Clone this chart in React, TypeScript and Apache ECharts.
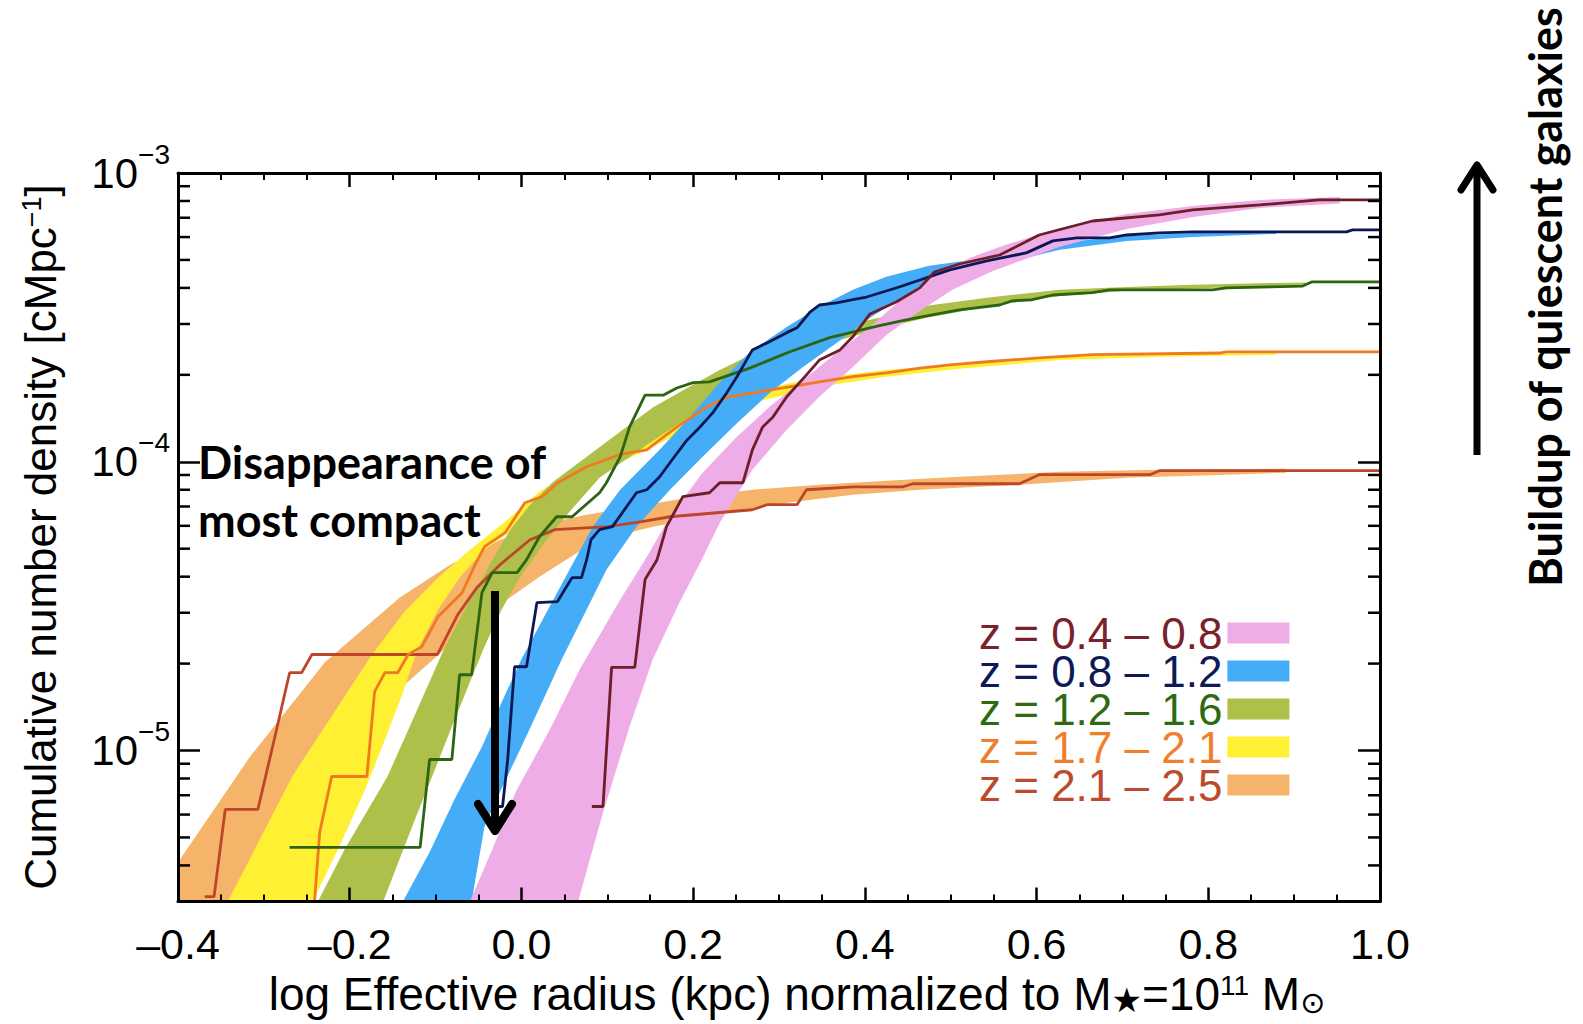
import React, { useEffect, useRef } from "react";
import * as echarts from "echarts";

const FONT = "'Liberation Sans', Arial, Helvetica, sans-serif";
const BOLD_FONT = "Lato, 'Open Sans', 'Noto Sans', sans-serif";

// ---------- axis settings ----------
const X_MIN = -0.4;
const X_MAX = 1.0;
const X_INTERVAL = 0.2;
const Y_MIN = 3e-6;
const Y_MAX = 1e-3;
const yMinorTicks = [
  4e-6, 5e-6, 6e-6, 7e-6, 8e-6, 9e-6,
  2e-5, 3e-5, 4e-5, 5e-5, 6e-5, 7e-5, 8e-5, 9e-5,
  2e-4, 3e-4, 4e-4, 5e-4, 6e-4, 7e-4, 8e-4, 9e-4,
];

// ---------- legend / redshift bins ----------
const binNames = ["z = 0.4 – 0.8", "z = 0.8 – 1.2", "z = 1.2 – 1.6", "z = 1.7 – 2.1", "z = 2.1 – 2.5"];
const bandColors = ["#EEADE6", "#45ACF8", "#AFC04A", "#FFF033", "#F5B46A"];
const lineColors = ["#6E1E29", "#0D1754", "#2C6413", "#F07A22", "#BD4529"];
const legendTextColors = ["#7A222B", "#0D1A55", "#2D6A12", "#F07F2C", "#BE4A2C"];

// ---------- z = 0.4 – 0.8 ----------
const pinkUpper = [[-0.060,3.0e-6],[-0.034,4.54e-6],[-0.007,7.16e-6],[0.033,1.18e-5],[0.068,1.91e-5],[0.115,3.33e-5],[0.144,4.58e-5],[0.173,6.45e-5],[0.211,9.16e-5],[0.251,1.22e-4],[0.289,1.55e-4],[0.328,1.92e-4],[0.367,2.38e-4],[0.406,2.93e-4],[0.444,3.69e-4],[0.484,4.47e-4],[0.522,5.08e-4],[0.560,5.59e-4],[0.627,6.45e-4],[0.705,7.21e-4],[0.782,7.69e-4],[0.860,8.07e-4],[0.953,8.26e-4]];
const pinkLower = [[0.066,3.0e-6],[0.095,6.10e-6],[0.126,1.21e-5],[0.153,2.07e-5],[0.184,3.25e-5],[0.210,4.58e-5],[0.231,6.15e-5],[0.269,9.38e-5],[0.309,1.29e-4],[0.347,1.68e-4],[0.386,2.13e-4],[0.425,2.75e-4],[0.464,3.33e-4],[0.502,3.94e-4],[0.549,4.58e-4],[0.627,5.55e-4],[0.705,6.40e-4],[0.782,7.04e-4],[0.860,7.57e-4],[0.953,7.84e-4]];
const brownLine = [[0.082,6.40e-6],[0.095,6.40e-6],[0.105,1.94e-5],[0.132,1.94e-5],[0.144,3.91e-5],[0.158,4.58e-5],[0.169,5.96e-5],[0.188,7.57e-5],[0.219,7.81e-5],[0.231,8.46e-5],[0.258,8.46e-5],[0.269,1.10e-4],[0.281,1.32e-4],[0.293,1.43e-4],[0.309,1.68e-4],[0.332,2.00e-4],[0.347,2.25e-4],[0.371,2.44e-4],[0.386,2.71e-4],[0.406,3.25e-4],[0.437,3.58e-4],[0.464,4.00e-4],[0.481,4.54e-4],[0.510,4.84e-4],[0.557,5.20e-4],[0.603,6.10e-4],[0.665,6.82e-4],[0.743,7.16e-4],[0.782,7.45e-4],[0.860,7.75e-4],[0.929,8.07e-4],[1.000,8.07e-4]];

// ---------- z = 0.8 – 1.2 ----------
const blueUpper = [[-0.138,3.0e-6],[-0.107,4.44e-6],[-0.078,6.77e-6],[-0.046,1.03e-5],[-0.023,1.47e-5],[0.000,2.07e-5],[0.031,3.08e-5],[0.056,4.23e-5],[0.083,5.96e-5],[0.115,8.00e-5],[0.161,1.10e-4],[0.196,1.43e-4],[0.231,1.88e-4],[0.266,2.40e-4],[0.309,2.93e-4],[0.347,3.44e-4],[0.386,3.94e-4],[0.425,4.37e-4],[0.475,4.77e-4],[0.549,5.12e-4],[0.627,5.73e-4],[0.705,6.05e-4],[0.782,6.20e-4],[0.879,6.30e-4]];
const blueLower = [[-0.058,3.0e-6],[-0.043,5.46e-6],[-0.022,7.51e-6],[0.000,1.03e-5],[0.024,1.47e-5],[0.047,2.07e-5],[0.076,3.08e-5],[0.099,4.23e-5],[0.134,5.96e-5],[0.173,8.00e-5],[0.211,1.04e-4],[0.251,1.36e-4],[0.289,1.73e-4],[0.328,2.13e-4],[0.367,2.58e-4],[0.406,3.15e-4],[0.444,3.72e-4],[0.487,4.23e-4],[0.549,4.77e-4],[0.627,5.42e-4],[0.705,5.82e-4],[0.782,6.00e-4],[0.879,6.15e-4]];
const navyLine = [[-0.029,6.40e-6],[-0.022,6.40e-6],[-0.016,9.31e-6],[-0.008,1.95e-5],[0.006,1.95e-5],[0.018,3.25e-5],[0.042,3.28e-5],[0.059,3.97e-5],[0.070,3.97e-5],[0.076,4.58e-5],[0.081,5.37e-5],[0.091,5.82e-5],[0.106,5.96e-5],[0.134,7.81e-5],[0.146,8.00e-5],[0.161,8.87e-5],[0.176,1.02e-4],[0.193,1.19e-4],[0.208,1.32e-4],[0.223,1.48e-4],[0.239,1.73e-4],[0.251,1.97e-4],[0.269,2.44e-4],[0.286,2.58e-4],[0.309,2.80e-4],[0.321,2.91e-4],[0.336,3.30e-4],[0.347,3.49e-4],[0.367,3.55e-4],[0.386,3.64e-4],[0.402,3.72e-4],[0.440,4.03e-4],[0.499,4.62e-4],[0.542,4.96e-4],[0.588,5.29e-4],[0.619,5.82e-4],[0.647,5.96e-4],[0.685,5.96e-4],[0.705,6.10e-4],[0.743,6.20e-4],[0.782,6.25e-4],[0.961,6.25e-4],[0.968,6.35e-4],[1.000,6.35e-4]];

// ---------- z = 1.2 – 1.6 ----------
const greenUpper = [[-0.237,3.0e-6],[-0.206,4.54e-6],[-0.156,8.13e-6],[-0.124,1.33e-5],[-0.093,2.15e-5],[-0.066,3.08e-5],[-0.037,4.40e-5],[-0.013,5.82e-5],[0.010,7.10e-5],[0.037,8.53e-5],[0.076,1.04e-4],[0.115,1.27e-4],[0.153,1.54e-4],[0.193,1.80e-4],[0.231,2.08e-4],[0.269,2.36e-4],[0.309,2.62e-4],[0.347,2.84e-4],[0.417,3.15e-4],[0.472,3.47e-4],[0.549,3.72e-4],[0.627,3.94e-4],[0.705,4.03e-4],[0.782,4.10e-4],[0.860,4.15e-4],[0.914,4.18e-4]];
const greenLower = [[-0.161,3.0e-6],[-0.142,4.20e-6],[-0.124,5.77e-6],[-0.104,8.13e-6],[-0.081,1.21e-5],[-0.062,1.67e-5],[-0.043,2.29e-5],[-0.023,3.08e-5],[-0.002,3.97e-5],[0.027,5.25e-5],[0.056,6.71e-5],[0.091,8.80e-5],[0.138,1.10e-4],[0.184,1.36e-4],[0.231,1.67e-4],[0.278,2.00e-4],[0.324,2.35e-4],[0.371,2.64e-4],[0.417,2.88e-4],[0.472,3.15e-4],[0.549,3.47e-4],[0.627,3.75e-4],[0.705,3.91e-4],[0.782,3.98e-4],[0.860,4.05e-4],[0.914,4.10e-4]];
const greenLine = [[-0.270,4.62e-6],[-0.118,4.62e-6],[-0.107,9.31e-6],[-0.081,9.31e-6],[-0.072,1.83e-5],[-0.058,1.83e-5],[-0.046,3.52e-5],[-0.034,4.13e-5],[-0.005,4.13e-5],[0.006,4.58e-5],[0.021,5.50e-5],[0.041,6.45e-5],[0.059,6.45e-5],[0.091,7.81e-5],[0.099,8.46e-5],[0.115,1.04e-4],[0.126,1.32e-4],[0.144,1.70e-4],[0.165,1.70e-4],[0.181,1.80e-4],[0.200,1.88e-4],[0.219,1.89e-4],[0.266,2.11e-4],[0.312,2.40e-4],[0.359,2.69e-4],[0.417,2.96e-4],[0.444,3.08e-4],[0.472,3.20e-4],[0.510,3.36e-4],[0.557,3.49e-4],[0.572,3.61e-4],[0.595,3.64e-4],[0.619,3.78e-4],[0.665,3.85e-4],[0.685,3.94e-4],[0.805,3.94e-4],[0.821,4.00e-4],[0.910,4.06e-4],[0.921,4.20e-4],[1.000,4.20e-4]];

// ---------- z = 1.7 – 2.1 ----------
const yellowUpper = [[-0.342,3.0e-6],[-0.267,8.13e-6],[-0.174,2.15e-5],[-0.136,3.03e-5],[-0.097,3.97e-5],[-0.060,4.96e-5],[-0.019,6.20e-5],[0.021,7.87e-5],[0.062,9.38e-5],[0.109,1.13e-4],[0.155,1.34e-4],[0.208,1.57e-4],[0.269,1.77e-4],[0.347,1.95e-4],[0.425,2.08e-4],[0.510,2.18e-4],[0.627,2.31e-4],[0.743,2.36e-4],[0.879,2.38e-4]];
const yellowLower = [[-0.243,3.0e-6],[-0.211,4.73e-6],[-0.182,7.33e-6],[-0.159,1.09e-5],[-0.139,1.56e-5],[-0.121,2.24e-5],[-0.097,3.08e-5],[-0.072,3.97e-5],[-0.043,4.96e-5],[-0.002,6.05e-5],[0.037,7.21e-5],[0.115,9.92e-5],[0.193,1.29e-4],[0.269,1.60e-4],[0.347,1.82e-4],[0.425,1.97e-4],[0.510,2.10e-4],[0.627,2.25e-4],[0.743,2.31e-4],[0.879,2.35e-4]];
const orangeLine = [[-0.241,3.0e-6],[-0.235,5.20e-6],[-0.221,8.13e-6],[-0.180,8.13e-6],[-0.171,1.60e-5],[-0.159,1.86e-5],[-0.144,1.86e-5],[-0.132,2.15e-5],[-0.116,2.29e-5],[-0.097,2.91e-5],[-0.069,3.52e-5],[-0.054,4.40e-5],[-0.043,5.08e-5],[-0.019,5.68e-5],[0.004,7.21e-5],[0.024,7.57e-5],[0.042,8.46e-5],[0.076,9.61e-5],[0.115,1.06e-4],[0.146,1.10e-4],[0.161,1.19e-4],[0.184,1.34e-4],[0.216,1.55e-4],[0.239,1.67e-4],[0.278,1.75e-4],[0.328,1.85e-4],[0.347,1.89e-4],[0.386,1.97e-4],[0.425,2.03e-4],[0.464,2.11e-4],[0.502,2.17e-4],[0.542,2.22e-4],[0.603,2.29e-4],[0.665,2.35e-4],[0.813,2.38e-4],[0.821,2.40e-4],[1.000,2.40e-4]];

// ---------- z = 2.1 – 2.5 ----------
const orangeUpper = [[-0.400,4.10e-6],[-0.316,9.53e-6],[-0.229,2.02e-5],[-0.142,3.38e-5],[-0.083,4.40e-5],[-0.037,5.16e-5],[-0.002,5.73e-5],[0.037,6.20e-5],[0.076,6.56e-5],[0.134,6.99e-5],[0.193,7.51e-5],[0.269,8.00e-5],[0.347,8.33e-5],[0.425,8.60e-5],[0.510,8.87e-5],[0.627,9.23e-5],[0.743,9.38e-5],[0.891,9.46e-5]];
const orangeLower = [[-0.400,3.0e-6],[-0.342,3.0e-6],[-0.305,4.44e-6],[-0.258,6.77e-6],[-0.200,1.07e-5],[-0.142,1.63e-5],[-0.083,2.33e-5],[-0.025,3.20e-5],[0.021,4.00e-5],[0.076,5.08e-5],[0.115,5.59e-5],[0.153,5.96e-5],[0.231,6.61e-5],[0.309,7.21e-5],[0.386,7.69e-5],[0.464,8.00e-5],[0.580,8.33e-5],[0.705,8.80e-5],[0.821,9.02e-5],[0.891,9.16e-5]];
const redLine = [[-0.369,3.12e-6],[-0.358,3.12e-6],[-0.345,6.25e-6],[-0.307,6.25e-6],[-0.287,1.12e-5],[-0.270,1.86e-5],[-0.256,1.86e-5],[-0.244,2.15e-5],[-0.098,2.15e-5],[-0.074,2.96e-5],[-0.052,3.66e-5],[-0.025,4.40e-5],[0.010,5.37e-5],[0.039,5.82e-5],[0.101,5.96e-5],[0.140,6.20e-5],[0.173,6.45e-5],[0.269,6.82e-5],[0.286,7.10e-5],[0.321,7.10e-5],[0.332,8.00e-5],[0.386,8.19e-5],[0.444,8.19e-5],[0.456,8.39e-5],[0.580,8.39e-5],[0.603,9.02e-5],[0.732,9.02e-5],[0.743,9.31e-5],[1.000,9.31e-5]];

function bandSeries(name: string, color: string, upper: number[][], lower: number[][]) {
  const poly = [...upper, ...lower.slice().reverse()];
  return {
    type: "custom",
    name,
    clip: true,
    silent: true,
    itemStyle: { color },
    data: poly,
    renderItem: (params: any, api: any) => {
      if (params.dataIndex !== 0) return null;
      const pts = poly.map((p) => api.coord(p));
      return { type: "polygon", shape: { points: pts }, style: { fill: color, stroke: null } };
    },
  };
}

function lineSeries(name: string, color: string, data: number[][]) {
  return {
    type: "line",
    name,
    data,
    showSymbol: false,
    symbol: "none",
    clip: true,
    silent: true,
    lineStyle: { color, width: 2.8 },
  };
}

const xLabel = (v: number) => (v < -1e-9 ? "\u2013" : "") + Math.abs(v).toFixed(1);
const yLabel = (v: number) => {
  const l = Math.log10(v);
  const e = Math.round(l);
  if (Math.abs(l - e) > 1e-6) return "";
  return "{a|10}{b|" + (e < 0 ? "\u2212" + -e : String(e)) + "}";
};

function xAxisCfg(position: "bottom" | "top", showLabel: boolean) {
  return {
    type: "value",
    position,
    min: X_MIN,
    max: X_MAX,
    interval: X_INTERVAL,
    z: 20,
    axisLine: { show: true, onZero: false, lineStyle: { color: "#000", width: 3 } },
    axisTick: { show: true, inside: true, length: 14, lineStyle: { color: "#000", width: 2.5 } },
    minorTick: { show: true, splitNumber: 4, length: 7, lineStyle: { color: "#000", width: 2 } },
    splitLine: { show: false },
    minorSplitLine: { show: false },
    axisLabel: {
      show: showLabel,
      margin: 21,
      fontSize: 43,
      fontFamily: FONT,
      color: "#000",
      formatter: xLabel,
    },
  };
}

function yAxisCfg(position: "left" | "right", showLabel: boolean) {
  return {
    type: "log",
    logBase: 10,
    position,
    min: Y_MIN,
    max: Y_MAX,
    z: 20,
    axisLine: { show: true, onZero: false, lineStyle: { color: "#000", width: 3 } },
    axisTick: { show: true, inside: true, length: 22, lineStyle: { color: "#000", width: 2.5 } },
    splitLine: { show: false },
    axisLabel: {
      show: showLabel,
      margin: 8,
      formatter: yLabel,
      padding: [0, 0, 12, 0],
      rich: {
        a: { fontSize: 42, fontFamily: FONT, color: "#000", padding: [12, 0, 0, 0] },
        b: { fontSize: 28, fontFamily: FONT, color: "#000", verticalAlign: "top" },
      },
    },
  };
}

export default function App() {
  const ref = useRef<HTMLDivElement>(null);

  useEffect(() => {
    if (!ref.current) return;
    const chart = echarts.init(ref.current, null, { renderer: "svg" });

    const minorTickSeries = {
      type: "custom",
      name: "minor-ticks",
      silent: true,
      z: 20,
      data: yMinorTicks.map((v) => [X_MIN, v]),
      renderItem: (params: any, api: any) => {
        const v = api.value(1);
        const l = api.coord([X_MIN, v]);
        const r = api.coord([X_MAX, v]);
        return {
          type: "group",
          children: [
            { type: "line", shape: { x1: l[0], y1: l[1], x2: l[0] + 12, y2: l[1] }, style: { stroke: "#000", lineWidth: 2.5 } },
            { type: "line", shape: { x1: r[0] - 12, y1: r[1], x2: r[0], y2: r[1] }, style: { stroke: "#000", lineWidth: 2.5 } },
          ],
        };
      },
    };

    const option: any = {
      animation: false,
      backgroundColor: "#fff",
      grid: { left: 178, top: 173, width: 1202, height: 728.5, containLabel: false },
      xAxis: [xAxisCfg("bottom", true), xAxisCfg("top", false)],
      yAxis: [yAxisCfg("left", true), yAxisCfg("right", false)],
      legend: {
        orient: "vertical",
        left: 974,
        top: 606,
        align: "right",
        icon: "rect",
        itemWidth: 62,
        itemHeight: 21,
        itemGap: -6,
        selectedMode: false,
        textStyle: { fontSize: 44, fontFamily: FONT },
        data: binNames.map((n, i) => ({ name: n, textStyle: { color: legendTextColors[i] } })),
      },
      series: [
        bandSeries(binNames[4], bandColors[4], orangeUpper, orangeLower),
        lineSeries("line " + binNames[4], lineColors[4], redLine),
        bandSeries(binNames[3], bandColors[3], yellowUpper, yellowLower),
        lineSeries("line " + binNames[3], lineColors[3], orangeLine),
        bandSeries(binNames[2], bandColors[2], greenUpper, greenLower),
        lineSeries("line " + binNames[2], lineColors[2], greenLine),
        bandSeries(binNames[1], bandColors[1], blueUpper, blueLower),
        lineSeries("line " + binNames[1], lineColors[1], navyLine),
        bandSeries(binNames[0], bandColors[0], pinkUpper, pinkLower),
        lineSeries("line " + binNames[0], lineColors[0], brownLine),
        minorTickSeries,
      ],
      graphic: [
        {
          type: "text",
          x: 40,
          y: 537,
          rotation: Math.PI / 2,
          z: 100,
          style: {
            text: "{t|Cumulative number density [cMpc}{s|\u22121}{t|]}",
            align: "center",
            verticalAlign: "middle",
            rich: {
              t: { fontSize: 44, fontFamily: FONT, fill: "#000" },
              s: { fontSize: 27, fontFamily: FONT, fill: "#000", verticalAlign: "top" },
            },
          },
        },
        {
          type: "text",
          x: 797,
          y: 994,
          z: 100,
          style: {
            text: "{t|log Effective radius (kpc) normalized to M}{sb|\u2605}{t|=10}{sp|11}{t| M}{sb2|\u2299}",
            align: "center",
            verticalAlign: "middle",
            rich: {
              t: { fontSize: 46, fontFamily: FONT, fill: "#000" },
              sb: { fontSize: 34, fontFamily: "'DejaVu Sans', " + FONT, fill: "#000", verticalAlign: "bottom" },
              sb2: { fontSize: 30, fontFamily: "'DejaVu Sans', " + FONT, fill: "#000", verticalAlign: "bottom" },
              sp: { fontSize: 28, fontFamily: FONT, fill: "#000", verticalAlign: "top" },
            },
          },
        },
        {
          type: "text",
          x: 198,
          y: 462,
          z: 100,
          style: { text: "Disappearance of", fontSize: 45, fontWeight: "bold", fontFamily: BOLD_FONT, fill: "#000", align: "left", verticalAlign: "middle" },
        },
        {
          type: "text",
          x: 198,
          y: 520,
          z: 100,
          style: { text: "most compact", fontSize: 45, fontWeight: "bold", fontFamily: BOLD_FONT, fill: "#000", align: "left", verticalAlign: "middle" },
        },
        { type: "line", z: 100, shape: { x1: 495, y1: 591, x2: 495, y2: 828 }, style: { stroke: "#000", lineWidth: 8 } },
        {
          type: "polyline",
          z: 100,
          shape: { points: [[478, 804], [495, 831], [512, 804]] },
          style: { stroke: "#000", lineWidth: 8, fill: "none", lineCap: "round", lineJoin: "round" },
        },
        { type: "line", z: 100, shape: { x1: 1477, y1: 455, x2: 1477, y2: 168 }, style: { stroke: "#000", lineWidth: 7 } },
        {
          type: "polyline",
          z: 100,
          shape: { points: [[1461, 190], [1477, 165], [1493, 190]] },
          style: { stroke: "#000", lineWidth: 7, fill: "none", lineCap: "round", lineJoin: "round" },
        },
        {
          type: "text",
          x: 1545,
          y: 297,
          rotation: Math.PI / 2,
          z: 100,
          style: { text: "Buildup of quiescent galaxies", fontSize: 45, fontWeight: "bold", fontFamily: BOLD_FONT, fill: "#000", align: "center", verticalAlign: "middle" },
        },
      ],
    };

    chart.setOption(option);
    return () => chart.dispose();
  }, []);

  return (
    <div
      ref={ref}
      style={{ position: "fixed", left: 0, top: 0, width: 1583, height: 1024, background: "#fff" }}
    />
  );
}
